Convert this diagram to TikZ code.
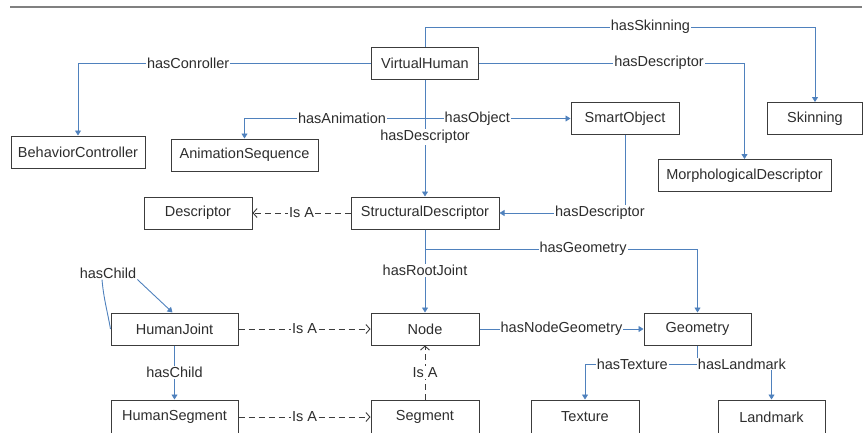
\documentclass[tikz,border=0pt]{standalone}
\usepackage{fontspec}
\setmainfont{Liberation Sans}
\usetikzlibrary{arrows.meta}

\definecolor{linkblue}{RGB}{79,129,189}
\definecolor{boxgray}{RGB}{60,60,60}
\definecolor{textgray}{RGB}{45,45,45}

\begin{document}
\begin{tikzpicture}[x=1pt,y=-1pt,
    cls/.style={draw=boxgray,line width=1pt,text=textgray,inner sep=0pt,
      minimum height=32pt,font=\fontsize{14.5}{17}\selectfont},
    rel/.style={draw=linkblue,line width=0.9pt,-{Triangle[width=6pt,length=5pt]}},
    link/.style={draw=linkblue,line width=0.9pt},
    isa/.style={draw=boxgray,line width=0.9pt,dash pattern=on 6pt off 4pt,
      -{Straight Barb[length=4pt,width=9pt]}},
    lbl/.style={fill=white,text=textgray,inner sep=1pt,
      font=\fontsize{14.5}{17}\selectfont}]
    \useasboundingbox (0,0) rectangle (864,432);
    \draw[gray,line width=1.5pt] (10,7) -- (862,7);

    % classes
    \node[cls,minimum width=107pt] (vh) at (425,63)    {VirtualHuman};
    \node[cls,minimum width=134pt] (bc) at (78,152)    {BehaviorController};
    \node[cls,minimum width=147pt] (as) at (244.5,155) {AnimationSequence};
    \node[cls,minimum width=108pt] (so) at (625,118.5) {SmartObject};
    \node[cls,minimum width=95pt]  (sk) at (815,118.5) {Skinning};
    \node[cls,minimum width=173pt] (md) at (744.5,175.5) {MorphologicalDescriptor};
    \node[cls,minimum width=108pt] (de) at (198,213)   {Descriptor};
    \node[cls,minimum width=148pt] (sd) at (425,213)   {StructuralDescriptor};
    \node[cls,minimum width=127pt] (hj) at (174.5,329) {HumanJoint};
    \node[cls,minimum width=108pt] (nd) at (425,329)   {Node};
    \node[cls,minimum width=107pt] (ge) at (697.5,329) {Geometry};
    \node[cls,minimum width=127pt,minimum height=34pt] (hs) at (174.5,417) {HumanSegment};
    \node[cls,minimum width=108pt,minimum height=34pt] (sg) at (425,417)   {Segment};
    \node[cls,minimum width=108pt,minimum height=34pt] (tx) at (585,417)   {Texture};
    \node[cls,minimum width=107pt,minimum height=34pt] (lm) at (771.5,417) {Landmark};

    % branch points
    \coordinate (skturn) at (425,27);
    \coordinate (vhmid)  at (425,118.5);
    \coordinate (sdmid)  at (425,249);
    \coordinate (gemid)  at (697.5,364);

    % VirtualHuman links
    \draw[link] (vh.north) -- (skturn);
    \draw[rel] (skturn) -| node[lbl,pos=0.289] {hasSkinning} (sk.north);
    \draw[rel] (vh.west) -| node[lbl,pos=0.312] {hasConroller} (bc.north);
    \draw[rel] (vh.east) -| node[lbl,pos=0.339] {hasDescriptor} (md.north);
    \draw[rel] (vhmid) -| node[lbl,pos=0.23] {hasAnimation} (as.north);
    \draw[rel] (vhmid) -- node[lbl,pos=0.36] {hasObject} (so.west);
    \draw[rel] (vh.south) -- node[lbl,pos=0.49] {hasDescriptor} (sd.north);
    \draw[rel] (so.south) |- node[lbl,pos=0.6] {hasDescriptor} (sd.east);

    % structural part
    \draw[link] (sd.south) -- (sdmid);
    \draw[rel] (sdmid) -| node[lbl,pos=0.29] {hasGeometry} (ge.north);
    \draw[rel] (sd.south) -- node[lbl,pos=0.49] {hasRootJoint} (nd.north);
    \draw[rel] (nd.east) -- node[lbl] {hasNodeGeometry} (ge.west);
    \draw[link] (ge.south) -- (gemid);
    \draw[rel] (gemid) -| node[lbl,pos=0.29] {hasTexture} (tx.north);
    \draw[rel] (gemid) -| node[lbl,pos=0.3] {hasLandmark} (lm.north);
    \draw[rel] (hj.south) -- node[lbl] {hasChild} (hs.north);

    % self loop on HumanJoint
    \node[lbl] (hcl) at (108,273) {hasChild};
    \draw[link] (hj.west) to[out=100,in=-85] ([xshift=-6pt]hcl.south);
    \draw[rel] (hcl.south east) -- ([xshift=-2pt]hj.north);

    % Is A
    \draw[isa] (sd.west) -- node[lbl] {Is A} (de.east);
    \draw[isa] (hj.east) -- node[lbl] {Is A} (nd.west);
    \draw[isa] (hs.east) -- node[lbl] {Is A} (sg.west);
    \draw[isa] (sg.north) -- node[lbl] {Is A} (nd.south);
\end{tikzpicture}
\end{document}
